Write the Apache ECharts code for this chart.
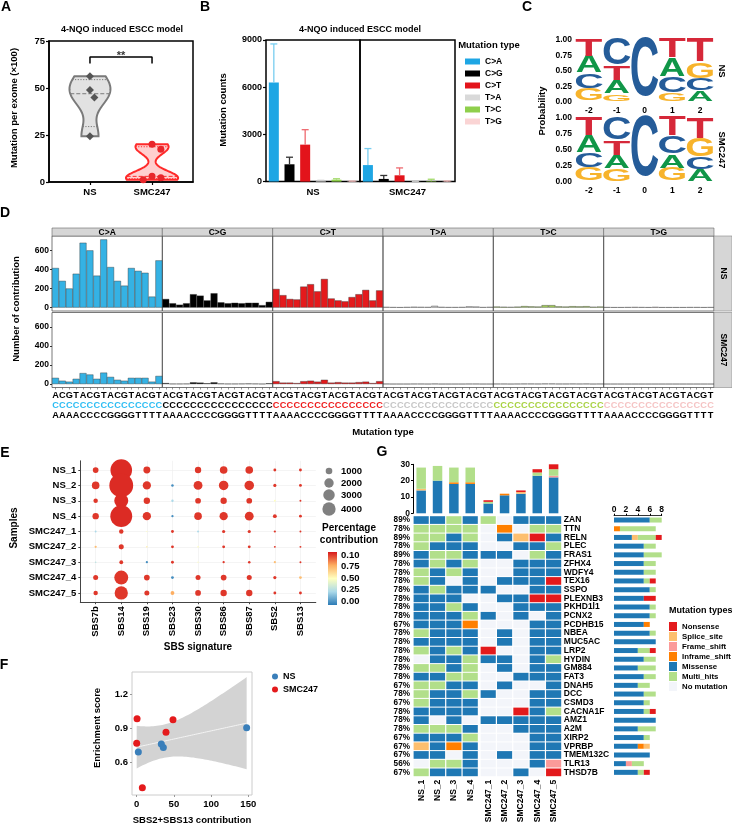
<!DOCTYPE html>
<html><head><meta charset="utf-8">
<script src="https://cdn.jsdelivr.net/npm/echarts@6/dist/echarts.min.js"></script>
<style>html,body{margin:0;padding:0;background:#fff}#main{width:732px;height:824px}</style>
</head><body><div id="main"></div>
<script>
// ================= DATA =================
// Panel A
const A_groups = ['NS', 'SMC247'];
const A_NS = [56.3, 48.9, 45.0, 24.3];
const A_SMC247 = [20.1, 17.4, 3.0, 2.3, 1.2];
const A_sig = '**';
const A_title = '4-NQO induced ESCC model';
// Panel B
const B_groups = ['NS', 'SMC247'];
const B_types = ['C>A', 'C>G', 'C>T', 'T>A', 'T>C', 'T>G'];
const B_NS_mean = [6300, 1100, 2350, 50, 120, 20];
const B_NS_sd = [2450, 450, 950, 30, 60, 15];
const B_SMC_mean = [1050, 170, 400, 10, 30, 10];
const B_SMC_sd = [1050, 220, 470, 10, 120, 30];
// Panel C (sequence logo probabilities, positions -2..2)
const C_positions = [-2, -1, 0, 1, 2];
const C_NS_A = [0.27, 0.215, 0, 0.30, 0.16];
const C_NS_C = [0.25, 0.44, 1, 0.26, 0.19];
const C_NS_G = [0.20, 0.12, 0, 0.13, 0.27];
const C_NS_T = [0.28, 0.225, 0, 0.31, 0.38];
const C_SMC_A = [0.26, 0.205, 0, 0.21, 0.18];
const C_SMC_C = [0.24, 0.37, 1, 0.285, 0.19];
const C_SMC_G = [0.21, 0.195, 0, 0.205, 0.29];
const C_SMC_T = [0.29, 0.23, 0, 0.30, 0.34];
// Panel D (96 trinucleotide contexts)
const D_types = ['C>A', 'C>G', 'C>T', 'T>A', 'T>C', 'T>G'];
const D_five = ['A','C','G','T','A','C','G','T','A','C','G','T','A','C','G','T'];
const D_three = ['A','A','A','A','C','C','C','C','G','G','G','G','T','T','T','T'];
const D_mid = 'C';
const D_yTicks = [0, 200, 400, 600];
const D_NS_CA = [415, 280, 200, 355, 680, 600, 335, 715, 425, 280, 230, 415, 385, 365, 115, 495];
const D_NS_CG = [90, 45, 30, 45, 140, 125, 75, 150, 55, 45, 50, 45, 50, 50, 25, 60];
const D_NS_CT = [195, 130, 90, 85, 220, 245, 170, 300, 95, 75, 65, 110, 140, 185, 75, 180];
const D_NS_TA = [6, 4, 3, 5, 8, 6, 5, 18, 6, 4, 4, 5, 12, 10, 4, 6];
const D_NS_TC = [10, 8, 6, 9, 15, 12, 10, 25, 25, 12, 10, 14, 12, 14, 8, 10];
const D_NS_TG = [4, 3, 3, 4, 5, 4, 3, 6, 3, 3, 3, 3, 4, 4, 3, 4];
const D_SMC_CA = [65, 35, 25, 55, 115, 100, 55, 120, 75, 45, 35, 65, 65, 65, 25, 85];
const D_SMC_CG = [10, 3, 3, 4, 18, 15, 8, 18, 5, 3, 3, 4, 5, 4, 2, 8];
const D_SMC_CT = [30, 15, 15, 10, 30, 35, 25, 45, 15, 20, 15, 15, 20, 25, 10, 30];
const D_SMC_TA = [2, 1, 1, 1, 2, 2, 1, 3, 1, 1, 1, 1, 2, 2, 1, 1];
const D_SMC_TC = [2, 2, 1, 2, 3, 3, 2, 4, 4, 2, 2, 3, 2, 3, 1, 2];
const D_SMC_TG = [1, 1, 1, 1, 1, 1, 1, 1, 1, 1, 1, 1, 1, 1, 1, 1];
const D_rowNames = ['NS', 'SMC247'];
// Panel E
const E_samples = ['NS_1','NS_2','NS_3','NS_4','SMC247_1','SMC247_2','SMC247_3','SMC247_4','SMC247_5'];
const E_signatures = ['SBS7b','SBS14','SBS19','SBS23','SBS30','SBS86','SBS87','SBS2','SBS13'];
const E_contribution = [
  [260, 3700, 380, 0, 320, 460, 460, 65, 65],
  [460, 4500, 540, 50, 620, 720, 720, 80, 65],
  [160, 1550, 320, 45, 260, 320, 260, 30, 30],
  [320, 3800, 540, 40, 460, 540, 620, 115, 65],
  [30, 160, 12, 65, 30, 80, 80, 40, 30],
  [40, 200, 20, 65, 20, 65, 65, 30, 30],
  [20, 115, 40, 65, 12, 40, 50, 40, 30],
  [200, 1550, 260, 65, 200, 260, 200, 80, 65],
  [160, 1400, 200, 115, 260, 320, 320, 65, 65]
];
const E_pct = [
  [0.95, 0.97, 0.95, 0.95, 0.95, 0.95, 0.95, 0.95, 0.95],
  [0.95, 0.97, 0.95, 0.05, 0.95, 0.95, 0.95, 0.95, 0.95],
  [0.95, 0.97, 0.95, 0.25, 0.95, 0.95, 0.95, 0.50, 0.95],
  [0.95, 0.97, 0.95, 0.05, 0.95, 0.95, 0.95, 0.95, 0.95],
  [0.25, 0.95, 0.50, 0.95, 0.25, 0.95, 0.95, 0.95, 0.95],
  [0.70, 0.95, 0.55, 0.95, 0.50, 0.95, 0.95, 0.95, 0.95],
  [0.30, 0.95, 0.05, 0.95, 0.50, 0.95, 0.95, 0.70, 0.95],
  [0.95, 0.95, 0.95, 0.05, 0.95, 0.95, 0.95, 0.95, 0.70],
  [0.95, 0.95, 0.95, 0.75, 0.95, 0.95, 0.95, 0.95, 0.95]
];
const E_sizeBreaks = [1000, 2000, 3000, 4000];
const E_colorLabels = ['0.10', '0.75', '0.50', '0.25', '0.00'];
// Panel F
const F_x = [2.2, 33.1, 35.8, 147.8, 0.5, 0, 7.6, 39.4, 48.8];
const F_y = [0.688, 0.759, 0.727, 0.903, 0.982, 0.765, 0.373, 0.862, 0.973];
const F_group = ['NS','NS','NS','NS','SMC247','SMC247','SMC247','SMC247','SMC247'];
const F_groups = ['NS', 'SMC247'];
const F_xTicks = [0, 50, 100, 150];
const F_yTicks = [0.6, 0.9, 1.2];
// Panel G (oncoplot)
const G_samples = ['NS_1','NS_2','NS_3','NS_4','SMC247_1','SMC247_2','SMC247_3','SMC247_4','SMC247_5'];
const G_genes = ['ZAN','TTN','RELN','PLEC','FRAS1','ZFHX4','WDFY4','TEX16','SSPO','PLEXNB3','PKHD1l1','PCNX2','PCDHB15','NBEA','MUC5AC','LRP2','HYDIN','GM884','FAT3','DNAH5','DCC','CSMD3','CACNA1F','AMZ1','A2M','XIRP2','VPRBP','TMEM132C','TLR13','THSD7B'];
// codes: M Missense, H Multi_hits, N Nonsense, S Splice_site, F Frame_shift, I Inframe_shift, 0 none
const G_matrix = ['MMHMH0MMM','HHHH0I0HH','HHMH0MSNM','HMMM00MMH','MHHMMM0HM','MHMH00MMM','HMHM00MMM','HM0M0MMMN','MHMMM00MM','MMM00MMNN','MMHM00MMM','MMMHM0M0M','MMMI000MM','HMMM0M0MM','MMMM0M0MM','HMHMN00MM','0MMHMM0MH','HHMH0M0MM','MMHH00MMM','HHMM0M00M','HMMHM00MM','HMMM000MM','MMMM00NMH','M0M0MMMMM','HHHM00MMM','MMMH000MM','SMIM000MM','MM0M0M0MM','0HHM000MF','HMMM00M0N'];
const G_types = ['Nonsense','Splice_site','Frame_shift','Inframe_shift','Missense','Multi_hits','No mutation'];
const G_codes = ['N','S','F','I','M','H','0'];
const G_stackOrder = ['M','F','I','S','H','N'];

// ================= STYLE / LAYOUT =================
const FONT = 'Liberation Sans, Arial, Helvetica, sans-serif';
function ts(size, color) { return {fontFamily: FONT, fontWeight: 'bold', fontSize: size, color: color || '#000'}; }
const B_colors = ['#1ea6e4', '#000000', '#e3141b', '#d9d9d9', '#8fcf4c', '#fad4d4'];
const B_errColors = ['#78cdf0', '#333333', '#ee6a70', '#cccccc', '#a3da6b', '#f3b9b9'];
const C_colors = {A: '#109648', C: '#255C99', G: '#F7B32B', T: '#D62839'};
const C_inkW = {A: 0.715, C: 0.64, G: 0.68, T: 0.59};
const C_inkH = {A: 0.716, C: 0.745, G: 0.745, T: 0.716};
const D_colors = ['#35b2e4', '#000000', '#e41a1c', '#cdcdcd', '#a6d05a', '#f3c4c4'];
const D_labelColors = ['#2dbdf3', '#000000', '#ee1c1c', '#c6c6c6', '#a9d243', '#f5c4c4'];
const E_ramp = ['#2c7bb6', '#abd9e9', '#ffffbf', '#fdae61', '#d7191c'];
const G_colors = ['#e31a1c', '#fdbf6f', '#fb9a99', '#ff7f00', '#1f78b4', '#b2df8a', '#f3f5fa'];

const grid = [], xAxis = [], yAxis = [], series = [], graphic = [], legend = [], visualMap = [];
function G(o) { grid.push(Object.assign({containLabel: false, outerBoundsMode: 'none'}, o)); return grid.length - 1; }
function X(o) { xAxis.push(o); return xAxis.length - 1; }
function Y(o) { yAxis.push(o); return yAxis.length - 1; }
function txt(x, y, s, size, extra) {
  const e = Object.assign({type: 'text', x: x, y: y, z: 100,
    style: Object.assign({text: s, fontFamily: FONT, fontWeight: 'bold', fontSize: size, fill: '#000',
      align: 'center', verticalAlign: 'middle', textAlign: 'center', textVerticalAlign: 'middle'}, (extra && extra.style) || {})},
    (extra && extra.el) || {});
  graphic.push(e);
}
const HIDE = {show: false};
const LINE_HIDE = {show: false, onZero: false};

// ================= PANEL A =================
function kde(vals, bw, y) { let s = 0; for (const v of vals) { const z = (y - v) / bw; s += Math.exp(-0.5 * z * z); } return s; }
function quant(vals, p) { const s = [...vals].sort((a, b) => a - b); const n = s.length; const r = (n + 1) * p - 1;
  if (r <= 0) return s[0]; if (r >= n - 1) return s[n - 1]; const f = Math.floor(r); return s[f] + (r - f) * (s[f + 1] - s[f]); }
function swarm(vals) { const pyU = 141 / 75, pxU = 144 / 2.32, d = 8, placed = [];
  return vals.map(v => { const y = v * pyU; let off = 0;
    for (let k = 0; k < 30; k++) { const o = (k === 0 ? 0 : (k % 2 ? 1 : -1) * Math.ceil(k / 2)) * d * 0.55;
      if (placed.every(p => Math.hypot(p[0] - o, p[1] - y) >= d)) { off = o; break; } }
    placed.push([off, y]); return off / pxU; }); }
const A_values = [A_NS, A_SMC247];
const A_style = [
  {bw: 7, half: 0.33, fill: 'rgba(185,185,185,0.42)', stroke: '#7a7a7a', point: '#555555', symbol: 'diamond', size: 8},
  {bw: 3.6, half: 0.42, fill: 'rgba(255,110,110,0.33)', stroke: '#ff2a2a', point: '#e8262b', symbol: 'circle', size: 7}
];
const gA = G({left: 49, top: 41, width: 144, height: 141, show: true, borderColor: '#000', borderWidth: 1.5});
const xA = X({gridIndex: gA, type: 'value', min: 0.34, max: 2.66,
  axisLine: {show: true, onZero: false, lineStyle: {color: '#000', width: 1.5}},
  axisTick: {show: true, customValues: [1, 2], length: 3, lineStyle: {color: '#000', width: 1.2}},
  axisLabel: Object.assign({customValues: [1, 2], formatter: v => A_groups[Math.round(v) - 1], margin: 5}, ts(9.5)),
  splitLine: HIDE});
const yA = Y({gridIndex: gA, type: 'value', min: 0, max: 75, interval: 25,
  axisLine: {show: true, onZero: false, lineStyle: {color: '#000', width: 1.5}},
  axisTick: {show: true, length: 3, lineStyle: {color: '#000', width: 1.2}},
  axisLabel: Object.assign({margin: 4}, ts(9.5)), splitLine: HIDE});
series.push({type: 'custom', xAxisIndex: xA, yAxisIndex: yA, silent: true, data: A_groups.map((g, i) => [i + 1]),
  renderItem: (p, api) => {
    const i = p.dataIndex, vals = A_values[i], st = A_style[i], c = i + 1;
    const lo = Math.min(...vals), hi = Math.max(...vals), N = 80, ys = [];
    for (let k = 0; k <= N; k++) ys.push(lo + (hi - lo) * k / N);
    const d = ys.map(y => kde(vals, st.bw, y)); const m = Math.max(...d);
    const half = d.map(v => v / m * st.half);
    const pts = [];
    ys.forEach((y, k) => pts.push(api.coord([c - half[k], y])));
    for (let k = N; k >= 0; k--) pts.push(api.coord([c + half[k], ys[k]]));
    const children = [{type: 'polygon', shape: {points: pts}, style: {fill: st.fill, stroke: st.stroke, lineWidth: 2}}];
    [0.25, 0.5, 0.75].forEach((q, j) => {
      const qv = quant(vals, q); const h = kde(vals, st.bw, qv) / m * st.half;
      const a = api.coord([c - h, qv]), b = api.coord([c + h, qv]);
      children.push({type: 'line', shape: {x1: a[0], y1: a[1], x2: b[0], y2: b[1]},
        style: {stroke: st.stroke, lineWidth: 1, lineDash: j === 1 ? [4, 2] : [1.2, 1.5]}});
    });
    return {type: 'group', children: children};
  }});
A_values.forEach((vals, i) => {
  const offs = swarm(vals);
  series.push({type: 'scatter', xAxisIndex: xA, yAxisIndex: yA, silent: true, symbol: A_style[i].symbol, symbolSize: A_style[i].size,
    itemStyle: {color: A_style[i].point, opacity: 1}, data: vals.map((v, k) => [i + 1 + offs[k], v])});
});
series.push({type: 'line', xAxisIndex: xA, yAxisIndex: yA, silent: true, symbol: 'none',
  lineStyle: {color: '#000', width: 1.5}, data: [[1, 63], [1, 66.5], [2, 66.5], [2, 63]]});
series.push({type: 'scatter', xAxisIndex: xA, yAxisIndex: yA, silent: true, symbolSize: 0, data: [[1.5, 67.3]],
  label: Object.assign({show: true, formatter: A_sig, position: 'inside'}, ts(11))});
txt(122, 30, A_title, 9);
txt(14, 108, 'Mutation per exome (×100)', 9.5, {el: {rotation: Math.PI / 2}});

// ================= PANEL B =================
const B_means = [B_NS_mean, B_SMC_mean], B_sds = [B_NS_sd, B_SMC_sd];
B_groups.forEach((gname, gi) => {
  const g = G({left: gi ? 360 : 266, top: 40, width: gi ? 95 : 94, height: 141.6, show: true, borderColor: '#000', borderWidth: 1.5});
  const xi = X({gridIndex: g, type: 'category', data: B_types, axisLine: LINE_HIDE, axisTick: HIDE, axisLabel: HIDE, splitLine: HIDE,
    name: gname, nameLocation: 'middle', nameGap: 6, nameTextStyle: Object.assign({verticalAlign: 'top'}, ts(9.5))});
  const yi = Y({gridIndex: g, type: 'value', min: 0, max: 9000, interval: 3000, axisLine: LINE_HIDE,
    axisTick: {show: gi === 0, length: 3, lineStyle: {color: '#000', width: 1.2}},
    axisLabel: Object.assign({show: gi === 0, margin: 4, formatter: v => String(v)}, ts(9)), splitLine: HIDE});
  B_types.forEach((t, ti) => {
    series.push({type: 'bar', name: t, xAxisIndex: xi, yAxisIndex: yi, barWidth: 10, barGap: '-100%', silent: true,
      itemStyle: {color: B_colors[ti]}, data: B_types.map((_, k) => k === ti ? B_means[gi][ti] : '-')});
  });
  series.push({type: 'custom', xAxisIndex: xi, yAxisIndex: yi, silent: true, z: 3,
    data: B_means[gi].map((m, k) => [k, m, B_sds[gi][k]]),
    renderItem: (p, api) => {
      const x = api.value(0), m = api.value(1), s = api.value(2);
      const a = api.coord([x, m]), b = api.coord([x, m + s]); const col = B_errColors[p.dataIndex];
      return {type: 'group', children: [
        {type: 'line', shape: {x1: a[0], y1: a[1], x2: b[0], y2: b[1]}, style: {stroke: col, lineWidth: 1.3}},
        {type: 'line', shape: {x1: b[0] - 3.5, y1: b[1], x2: b[0] + 3.5, y2: b[1]}, style: {stroke: col, lineWidth: 1.3}}]};
    }});
});
legend.push({data: B_types, orient: 'vertical', left: 465, top: 57, padding: 0, itemWidth: 15, itemHeight: 6, itemGap: 3,
  icon: 'rect', selectedMode: false, textStyle: ts(8.5)});
txt(360, 30, A_title, 9);
txt(223, 110, 'Mutation counts', 9.5, {el: {rotation: Math.PI / 2}});
txt(489, 45, 'Mutation type', 9.5);

// ================= PANEL C =================
const C_sets = [{A: C_NS_A, C: C_NS_C, G: C_NS_G, T: C_NS_T}, {A: C_SMC_A, C: C_SMC_C, G: C_SMC_G, T: C_SMC_T}];
const C_names = ['NS', 'SMC247'];
C_sets.forEach((set, si) => {
  const g = G({left: 575, top: si ? 118 : 40, width: 139, height: si ? 64 : 61.7});
  const xi = X({gridIndex: g, type: 'value', min: -2.5, max: 2.5, axisLine: LINE_HIDE, axisTick: HIDE, splitLine: HIDE,
    axisLabel: Object.assign({customValues: C_positions, margin: 4}, ts(8.5))});
  const yi = Y({gridIndex: g, type: 'value', min: 0, max: 1, interval: 0.25, axisLine: LINE_HIDE, axisTick: HIDE, splitLine: HIDE,
    axisLabel: Object.assign({formatter: v => v.toFixed(2), margin: 3}, ts(8.5))});
  series.push({type: 'custom', xAxisIndex: xi, yAxisIndex: yi, silent: true, data: C_positions.map((p, k) => [p, k]),
    renderItem: (p, api) => {
      const pos = api.value(0), k = api.value(1);
      const items = ['A', 'C', 'G', 'T'].map(L => ({L: L, v: set[L][k]})).filter(o => o.v > 0).sort((a, b) => a.v - b.v);
      let cum = 0; const children = [];
      items.forEach(o => {
        const b0 = api.coord([pos - 0.47, cum]), b1 = api.coord([pos + 0.47, cum + o.v]);
        cum += o.v;
        const w = b1[0] - b0[0], h = b0[1] - b1[1];
        const sx = w / (C_inkW[o.L] * 100), sy = h / (C_inkH[o.L] * 100);
        const cx = (b0[0] + b1[0]) / 2, cy = (b0[1] + b1[1]) / 2 + 1.15 * sy;
        children.push({type: 'text', x: cx, y: cy, scaleX: sx, scaleY: sy,
          style: {text: o.L, fontSize: 100, fontFamily: FONT, fontWeight: 'bold', fill: C_colors[o.L],
            align: 'center', verticalAlign: 'middle', textAlign: 'center', textVerticalAlign: 'middle'}});
      });
      return {type: 'group', children: children};
    }});
  txt(722, si ? 150 : 71, C_names[si], 9.5, {el: {rotation: -Math.PI / 2}});
});
txt(542, 111, 'Probability', 9.5, {el: {rotation: Math.PI / 2}});

// ================= PANEL D =================
const D_sets = [[D_NS_CA, D_NS_CG, D_NS_CT, D_NS_TA, D_NS_TC, D_NS_TG], [D_SMC_CA, D_SMC_CG, D_SMC_CT, D_SMC_TA, D_SMC_TC, D_SMC_TG]];
const dLeft = 52, dW = 110.33, dTop = [236, 312.5], dH = 75;
D_sets.forEach((set, r) => {
  D_types.forEach((t, c) => {
    const g = G({left: dLeft + c * dW, top: dTop[r], width: dW, height: dH, show: true, borderColor: '#555', borderWidth: 0.8});
    const xi = X({gridIndex: g, type: 'category', data: D_five.map((f, k) => f + '[' + t + ']' + D_three[k]),
      axisLine: LINE_HIDE, splitLine: HIDE,
      axisTick: {show: r === 1, alignWithLabel: true, length: 2, lineStyle: {color: '#555', width: 0.6}},
      axisLabel: {show: r === 1, interval: 0, margin: 3,
        formatter: (v, k) => '{a|' + D_five[k] + '}\n{m|' + D_mid + '}\n{a|' + D_three[k] + '}',
        rich: {a: Object.assign({lineHeight: 10}, ts(9.2)), m: Object.assign({lineHeight: 10}, ts(9.2, D_labelColors[c]))}}});
    const yi = Y({gridIndex: g, type: 'value', min: -36, max: 751, axisLine: LINE_HIDE, splitLine: HIDE,
      axisTick: {show: c === 0, customValues: D_yTicks, length: 2, lineStyle: {color: '#333'}},
      axisLabel: Object.assign({show: c === 0, customValues: D_yTicks, margin: 3}, ts(8.5))});
    series.push({type: 'bar', xAxisIndex: xi, yAxisIndex: yi, silent: true, data: set[c], barCategoryGap: '0%',
      itemStyle: {color: D_colors[c], borderColor: '#333', borderWidth: 0.4}});
  });
  graphic.push({type: 'rect', shape: {x: 714, y: dTop[r], width: 18, height: dH}, style: {fill: '#d6d6d6', stroke: '#888', lineWidth: 0.6}});
  txt(723, dTop[r] + dH / 2, D_rowNames[r], 8.5, {el: {rotation: -Math.PI / 2}});
});
D_types.forEach((t, c) => {
  graphic.push({type: 'rect', shape: {x: dLeft + c * dW, y: 228, width: dW, height: 8}, style: {fill: '#d6d6d6', stroke: '#666', lineWidth: 0.6}});
  txt(dLeft + c * dW + dW / 2, 232.3, t, 8.5);
});
txt(16, 309, 'Number of contribution', 9.5, {el: {rotation: Math.PI / 2}});
txt(383, 432, 'Mutation type', 9.5);

// ================= PANEL E =================
const ticks9 = [0, 1, 2, 3, 4, 5, 6, 7, 8];
const E_k = 0.355;
const gE = G({left: 80.3, top: 460.8, width: 235.5, height: 141.4});
const xE = X({gridIndex: gE, type: 'value', min: -0.6, max: 8.6,
  axisLine: {show: true, onZero: false, lineStyle: {color: '#444', width: 1}},
  axisTick: {show: true, customValues: ticks9, length: 2, lineStyle: {color: '#444'}},
  axisLabel: Object.assign({customValues: ticks9, formatter: v => E_signatures[Math.round(v)], rotate: 90, margin: 4}, ts(9.5)),
  splitLine: {show: true, lineStyle: {color: '#ececec', width: 0.6}}});
const yE = Y({gridIndex: gE, type: 'value', inverse: true, min: -0.6, max: 8.6,
  axisLine: {show: true, onZero: false, lineStyle: {color: '#444', width: 1}},
  axisTick: {show: true, customValues: ticks9, length: 2, lineStyle: {color: '#444'}},
  axisLabel: Object.assign({customValues: ticks9, formatter: v => E_samples[Math.round(v)], margin: 4}, ts(9.5)),
  splitLine: {show: true, lineStyle: {color: '#ececec', width: 0.6}}});
const eData = [];
E_samples.forEach((s, i) => E_signatures.forEach((sg, j) => {
  if (E_contribution[i][j] > 0) eData.push([j, i, E_contribution[i][j], E_pct[i][j]]);
}));
series.push({type: 'scatter', xAxisIndex: xE, yAxisIndex: yE, silent: true, data: eData,
  symbolSize: v => E_k * Math.sqrt(v[2]), itemStyle: {opacity: 1}});
visualMap.push({type: 'continuous', show: false, min: 0, max: 1, dimension: 3, seriesIndex: series.length - 1, inRange: {color: E_ramp}});
txt(14, 528, 'Samples', 10, {el: {rotation: Math.PI / 2}});
txt(198, 647, 'SBS signature', 10);
E_sizeBreaks.forEach((b, k) => {
  const cy = [471, 483, 495, 509][k];
  graphic.push({type: 'circle', shape: {cx: 329, cy: cy, r: 0.105 * Math.sqrt(b)}, style: {fill: '#808080'}});
  txt(341, cy, String(b), 9.5, {style: {align: 'left', textAlign: 'left'}});
});
txt(349, 528, 'Percentage', 10);
txt(349, 540, 'contribution', 10);
graphic.push({type: 'rect', shape: {x: 328, y: 552, width: 9, height: 53},
  style: {fill: new echarts.graphic.LinearGradient(0, 0, 0, 1, E_ramp.slice().reverse().map((c, k) => ({offset: k / 4, color: c})))}});
E_colorLabels.forEach((l, k) => txt(341, 555 + k * 11.5, l, 9.5, {style: {align: 'left', textAlign: 'left'}}));

// ================= PANEL F =================
const gF = G({left: 132, top: 672, width: 120, height: 123, show: true, borderColor: '#cccccc', borderWidth: 1});
const xF = X({gridIndex: gF, type: 'value', min: -6.3, max: 155, axisLine: LINE_HIDE, splitLine: HIDE,
  axisTick: {show: true, customValues: F_xTicks, length: 2, lineStyle: {color: '#999'}},
  axisLabel: Object.assign({customValues: F_xTicks, margin: 4}, ts(9.5))});
const yF = Y({gridIndex: gF, type: 'value', min: 0.309, max: 1.394, axisLine: LINE_HIDE, splitLine: HIDE,
  axisTick: {show: true, customValues: F_yTicks, length: 2, lineStyle: {color: '#999'}},
  axisLabel: Object.assign({customValues: F_yTicks, formatter: v => v.toFixed(1), margin: 4}, ts(9.5))});
(function () {
  const n = F_x.length, mx = F_x.reduce((a, b) => a + b, 0) / n, my = F_y.reduce((a, b) => a + b, 0) / n;
  let sxx = 0, sxy = 0; for (let i = 0; i < n; i++) { sxx += (F_x[i] - mx) ** 2; sxy += (F_x[i] - mx) * (F_y[i] - my); }
  const b = sxy / sxx, a = my - b * mx;
  let sse = 0; for (let i = 0; i < n; i++) sse += (F_y[i] - a - b * F_x[i]) ** 2;
  const s = Math.sqrt(sse / (n - 2)), tcrit = 2.365;
  const x0 = Math.min(...F_x), x1 = Math.max(...F_x);
  series.push({type: 'custom', xAxisIndex: xF, yAxisIndex: yF, silent: true, data: [[x0, x1]],
    renderItem: (p, api) => {
      const up = [], lo = [], ln = [];
      for (let k = 0; k <= 60; k++) {
        const x = x0 + (x1 - x0) * k / 60, yh = a + b * x;
        const se = s * Math.sqrt(1 / n + (x - mx) ** 2 / sxx);
        up.push(api.coord([x, yh + tcrit * se])); lo.push(api.coord([x, yh - tcrit * se])); ln.push(api.coord([x, yh]));
      }
      return {type: 'group', children: [
        {type: 'polygon', shape: {points: up.concat(lo.reverse())}, style: {fill: '#d3d3d3'}},
        {type: 'polyline', shape: {points: ln}, style: {stroke: '#f4f4f4', lineWidth: 1, fill: null}}]};
    }});
})();
const F_colors = {NS: '#3a7fba', SMC247: '#e41a1c'};
F_groups.forEach(gname => {
  series.push({type: 'scatter', name: gname, xAxisIndex: xF, yAxisIndex: yF, silent: true, symbolSize: 7,
    itemStyle: {color: F_colors[gname], opacity: 1},
    data: F_x.map((x, i) => F_group[i] === gname ? [x, F_y[i]] : null).filter(d => d)});
});
legend.push({data: F_groups, orient: 'vertical', left: 272, top: 672, padding: 0, itemWidth: 6, itemHeight: 6, itemGap: 4,
  icon: 'circle', selectedMode: false, textStyle: ts(9)});
txt(192, 820, 'SBS2+SBS13 contribution', 9.5);
txt(97, 728, 'Enrichment score', 9.5, {el: {rotation: Math.PI / 2}});

// ================= PANEL G =================
const colPos = c => c + (G_samples[c].indexOf('SMC') === 0 ? 0.1 : 0);
const colVals = G_samples.map((s, c) => colPos(c));
const typeOf = code => G_types[G_codes.indexOf(code)];
const colorOf = code => G_colors[G_codes.indexOf(code)];
// top stacked bars
const gGT = G({left: 413, top: 464.3, width: 148.8, height: 49});
const xGT = X({gridIndex: gGT, type: 'value', min: -0.5, max: 8.6, show: false, axisLine: LINE_HIDE});
const yGT = Y({gridIndex: gGT, type: 'value', min: 0, max: 30, interval: 10,
  axisLine: {show: true, onZero: false, lineStyle: {color: '#000', width: 1}},
  axisTick: {show: true, length: 2, lineStyle: {color: '#000'}},
  axisLabel: Object.assign({margin: 3}, ts(8.5)), splitLine: HIDE});
const colCum = G_samples.map(() => 0);
G_stackOrder.forEach(code => {
  const data = G_samples.map((s, c) => {
    const cnt = G_matrix.filter(row => row[c] === code).length;
    const d = [colPos(c), colCum[c], colCum[c] + cnt]; colCum[c] += cnt; return d;
  }).filter(d => d[2] > d[1]);
  series.push({type: 'custom', name: typeOf(code), xAxisIndex: xGT, yAxisIndex: yGT, silent: true, data: data,
    itemStyle: {color: colorOf(code)},
    renderItem: (p, api) => {
      const a = api.coord([api.value(0), api.value(1)]), b = api.coord([api.value(0), api.value(2)]);
      return {type: 'rect', shape: {x: a[0] - 4.75, y: b[1], width: 9.5, height: a[1] - b[1]}, style: {fill: colorOf(code)}};
    }});
});
// heatmap
const gGH = G({left: 413, top: 515.7, width: 148.8, height: 261});
const rows30 = G_genes.map((g, i) => i);
const xGH = X({gridIndex: gGH, type: 'value', min: -0.5, max: 8.6, axisLine: LINE_HIDE, axisTick: HIDE, splitLine: HIDE,
  axisLabel: Object.assign({customValues: colVals, rotate: 90, margin: 3, showMinLabel: true, showMaxLabel: true, hideOverlap: false,
    formatter: v => G_samples[colVals.findIndex(c => Math.abs(c - v) < 0.01)]}, ts(8.5))});
const yGH = Y({gridIndex: gGH, type: 'value', inverse: true, min: -0.5, max: 29.5, axisLine: LINE_HIDE, axisTick: HIDE, splitLine: HIDE,
  axisLabel: Object.assign({customValues: rows30, margin: 3, lineHeight: 7, showMinLabel: true, showMaxLabel: true, hideOverlap: false,
    formatter: v => {
      const row = G_matrix[Math.round(v)]; const n = row.split('').filter(ch => ch !== '0').length;
      return Math.round(n / row.length * 100) + '%'; }}, ts(8.2))});
const yGH2 = Y({gridIndex: gGH, type: 'category', data: G_genes, inverse: true, position: 'right', boundaryGap: true,
  axisLine: LINE_HIDE, axisTick: HIDE, splitLine: HIDE,
  axisLabel: Object.assign({interval: 0, margin: 2, lineHeight: 7, hideOverlap: false}, ts(8.5))});
G_codes.forEach((code, ti) => {
  const data = [];
  G_matrix.forEach((row, r) => { for (let c = 0; c < row.length; c++) if (row[c] === code) data.push([colPos(c), r]); });
  series.push({type: 'custom', name: G_types[ti], xAxisIndex: xGH, yAxisIndex: yGH, silent: true, data: data,
    itemStyle: {color: G_colors[ti]},
    renderItem: (p, api) => {
      const pt = api.coord([api.value(0), api.value(1)]); const sz = api.size([1, 1]);
      return {type: 'rect', shape: {x: pt[0] - sz[0] / 2 + 0.6, y: pt[1] - sz[1] / 2 + 0.5, width: sz[0] - 1.2, height: sz[1] - 1},
        style: {fill: G_colors[ti]}};
    }});
});
// right stacked bars
const gGR = G({left: 614, top: 515.7, width: 47.7, height: 261});
const xGR = X({gridIndex: gGR, type: 'value', position: 'top', min: 0, max: 8, interval: 2,
  axisLine: {show: true, onZero: false, lineStyle: {color: '#000', width: 0.8}},
  axisTick: {show: true, length: 2, lineStyle: {color: '#000'}},
  axisLabel: Object.assign({margin: 2}, ts(8.5)), splitLine: HIDE});
const yGR = Y({gridIndex: gGR, type: 'value', inverse: true, min: -0.5, max: 29.5, show: false, axisLine: LINE_HIDE});
const rowCum = G_genes.map(() => 0);
G_stackOrder.forEach(code => {
  const data = G_matrix.map((row, r) => {
    const cnt = row.split('').filter(ch => ch === code).length;
    const d = [rowCum[r], r, rowCum[r] + cnt]; rowCum[r] += cnt; return d;
  }).filter(d => d[2] > d[0]);
  series.push({type: 'custom', name: typeOf(code), xAxisIndex: xGR, yAxisIndex: yGR, silent: true, data: data,
    itemStyle: {color: colorOf(code)},
    renderItem: (p, api) => {
      const a = api.coord([api.value(0), api.value(1)]), b = api.coord([api.value(2), api.value(1)]);
      return {type: 'rect', shape: {x: a[0], y: a[1] - 2.5, width: b[0] - a[0], height: 5}, style: {fill: colorOf(code)}};
    }});
});
legend.push({data: G_types, orient: 'vertical', left: 669, top: 622, padding: 0, itemWidth: 8, itemHeight: 9, itemGap: 1,
  itemTextGap: 3, icon: 'rect', selectedMode: false, textStyle: ts(7.8)});
txt(669, 611, 'Mutation types', 9, {style: {align: 'left', textAlign: 'left'}});

// ================= Panel letters =================
[['A', 6, 7], ['B', 205, 7], ['C', 527, 7], ['D', 5, 213], ['E', 5, 453], ['F', 4, 665], ['G', 382, 452]]
  .forEach(l => txt(l[1], l[2], l[0], 14));

const chart = echarts.init(document.getElementById('main'), null, {renderer: 'canvas'});
chart.setOption({backgroundColor: '#ffffff', animation: false, grid: grid, xAxis: xAxis, yAxis: yAxis,
  series: series, legend: legend, visualMap: visualMap, graphic: {elements: graphic}, tooltip: {show: false}});
</script></body></html>
